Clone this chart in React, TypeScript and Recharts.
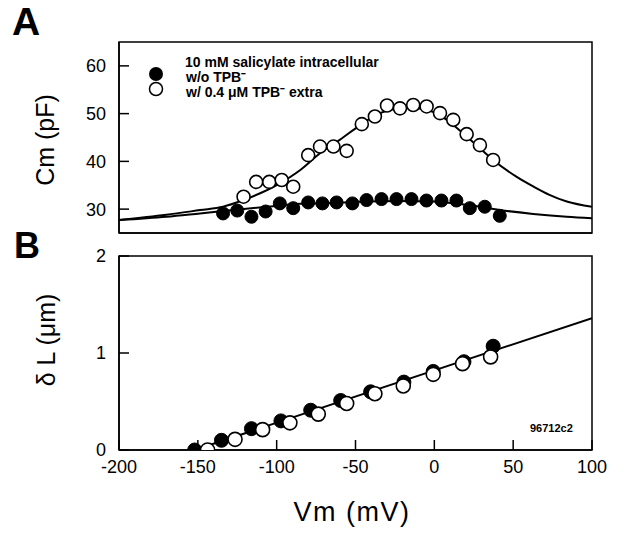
import React from 'react';
import { ComposedChart, Scatter, Line, XAxis, YAxis, ReferenceArea } from 'recharts';

// Panel A: membrane capacitance (pF) vs Vm (mV)
const vmFilledA = [-134, -125, -116, -107, -98, -89.5, -80, -71, -62, -52, -43, -33.5, -24, -14.5, -5, 4.5, 14, 22.5, 32, 41.5];
const cmFilledA = [29.1, 29.7, 28.4, 29.5, 31.2, 30.2, 31.4, 31.2, 31.4, 31.2, 31.9, 32.1, 32.1, 32.1, 31.8, 31.8, 31.8, 30.2, 30.5, 28.6];
const vmOpenA = [-121, -113, -104.7, -96.8, -89.5, -80, -72.5, -64, -55.6, -46, -37.7, -30, -21.8, -13.4, -4.9, 3.6, 12, 20.5, 28.9, 37.3];
const cmOpenA = [32.6, 35.7, 35.7, 36.1, 34.7, 41.3, 43.1, 43.1, 42.2, 47.8, 49.4, 51.7, 51.1, 51.8, 51.5, 50.1, 48.7, 45.7, 43.4, 40.3];

// fitted curves
const vmFitOpenA = [-200, -170, -148.6, -134, -121, -98, -85, -72.5, -60, -47, -34.5, -22, -13.4, -5, 3.6, 12, 20.5, 29, 37.3, 52, 63, 73, 84, 100];
const cmFitOpenA = [27.7, 28.8, 29.8, 30.5, 31.9, 35.4, 38.2, 41.7, 44.5, 47.6, 50.1, 51.1, 51.2, 50.8, 49.7, 47.6, 45.2, 42.7, 40.3, 36.8, 34.7, 33.0, 31.6, 30.5];
const vmFitFilledA = [-200, -170, -148.6, -127.5, -106, -85, -64, -43, -22, -1, 20.5, 41.6, 62.7, 84, 100];
const cmFitFilledA = [27.7, 28.4, 29.1, 29.8, 30.5, 31.1, 31.3, 31.6, 31.7, 31.6, 30.9, 29.8, 29.0, 28.4, 28.1];

// Panel B: delta L (um) vs Vm (mV)
const vmFilledB = [-152, -135, -116, -97.3, -78.4, -59.4, -40.4, -19.3, -0.7, 18.8, 37.3];
const dlFilledB = [0, 0.1, 0.22, 0.3, 0.41, 0.51, 0.6, 0.7, 0.81, 0.91, 1.07];
const vmOpenB = [-143.8, -126.4, -108.9, -91.6, -73.6, -55.6, -37.7, -19.7, -0.7, 17.9, 35.7];
const dlOpenB = [0, 0.11, 0.21, 0.28, 0.37, 0.48, 0.58, 0.66, 0.78, 0.89, 0.96];
const vmFitB = [-152, 100];
const dlFitB = [0, 1.36];

const xTicks = [-200, -150, -100, -50, 0, 50, 100];
const yTicksA = [30, 40, 50, 60];
const yTicksB = [0, 1, 2];

const zip = (xs: number[], ys: number[]) => xs.map((x, i) => ({ x, y: ys[i] }));

const FONT = '"Liberation Sans", Arial, Helvetica, sans-serif';

const filledDot = (r: number) => (p: any) => (
  <circle cx={p.cx} cy={p.cy} r={r} fill="#000" stroke="#000" strokeWidth={1} />
);
const openDot = (r: number) => (p: any) => (
  <circle cx={p.cx} cy={p.cy} r={r} fill="#fff" stroke="#000" strokeWidth={1.6} />
);

const tickStyle = { fontSize: 18, fill: '#000', fontFamily: FONT };

export default function App() {
  return (
    <div style={{ position: 'absolute', left: 0, top: 0, width: 625, height: 540, background: '#fff', fontFamily: FONT }}>
      <div style={{ position: 'absolute', left: 0, top: 0 }}>
        <ComposedChart width={625} height={245} margin={{ top: 42, right: 33, bottom: 2, left: 59 }}>
          <XAxis type="number" dataKey="x" domain={[-200, 100]} ticks={xTicks} allowDataOverflow
            height={10} tick={false} tickSize={-10} stroke="#000" strokeWidth={1.5} />
          <YAxis type="number" dataKey="y" domain={[25, 65]} ticks={yTicksA} allowDataOverflow
            width={60} tickSize={-10} tickMargin={23} tick={tickStyle} stroke="#000" strokeWidth={1.5} />
          <ReferenceArea x1={-200} x2={100} y1={25} y2={65} fill="none" stroke="#000" strokeWidth={1.5} fillOpacity={0} />
          <Line data={zip(vmFitOpenA, cmFitOpenA)} dataKey="y" type="monotone" stroke="#000" strokeWidth={2} dot={false} isAnimationActive={false} />
          <Line data={zip(vmFitFilledA, cmFitFilledA)} dataKey="y" type="monotone" stroke="#000" strokeWidth={2} dot={false} isAnimationActive={false} />
          <Scatter data={zip(vmFilledA, cmFilledA)} dataKey="y" shape={filledDot(6.5)} isAnimationActive={false} />
          <Scatter data={zip(vmOpenA, cmOpenA)} dataKey="y" shape={openDot(6.5)} isAnimationActive={false} />
        </ComposedChart>
      </div>
      <div style={{ position: 'absolute', left: 0, top: 245 }}>
        <ComposedChart width={625} height={295} margin={{ top: 11, right: 33, bottom: 10, left: 59 }}>
          <XAxis type="number" dataKey="x" domain={[-200, 100]} ticks={xTicks} allowDataOverflow
            height={80} tickSize={-10} tickMargin={20} tick={tickStyle} stroke="#000" strokeWidth={1.5} />
          <YAxis type="number" dataKey="y" domain={[0, 2]} ticks={yTicksB} allowDataOverflow
            width={60} tickSize={-10} tickMargin={23} tick={tickStyle} stroke="#000" strokeWidth={1.5} />
          <ReferenceArea x1={-200} x2={100} y1={0} y2={2} fill="none" stroke="#000" strokeWidth={1.5} fillOpacity={0} />
          <Line data={zip(vmFitB, dlFitB)} dataKey="y" type="linear" stroke="#000" strokeWidth={2} dot={false} isAnimationActive={false} />
          <Scatter data={zip(vmFilledB, dlFilledB)} dataKey="y" shape={filledDot(7)} isAnimationActive={false} />
          <Scatter data={zip(vmOpenB, dlOpenB)} dataKey="y" shape={openDot(7)} isAnimationActive={false} />
        </ComposedChart>
      </div>
      <svg width={625} height={540} style={{ position: 'absolute', left: 0, top: 0, pointerEvents: 'none' }} fontFamily={FONT}>
        <text x={12} y={35} fontSize={39} fontWeight="bold">A</text>
        <text x={14} y={258} fontSize={36} fontWeight="bold">B</text>
        <text x={45} y={140} fontSize={25} textAnchor="middle" dominantBaseline="central" transform="rotate(-90 45 140)">Cm (pF)</text>
        <text x={46} y={340} fontSize={25} textAnchor="middle" dominantBaseline="central" transform="rotate(-90 46 340)">δ L (μm)</text>
        <text x={352} y={521} fontSize={27} textAnchor="middle" letterSpacing={1.5}>Vm (mV)</text>
        {/* legend */}
        <circle cx={156} cy={74} r={7} fill="#000" />
        <circle cx={156} cy={89} r={6.5} fill="#fff" stroke="#000" strokeWidth={1.5} />
        <text x={185} y={67} fontSize={14} fontWeight="bold">10 mM salicylate intracellular</text>
        <text x={186} y={82} fontSize={14} fontWeight="bold">w/o TPB⁻</text>
        <text x={186} y={97} fontSize={14} fontWeight="bold">w/ 0.4 μM TPB⁻ extra</text>
        <text x={530} y={432} fontSize={11} fontWeight="bold">96712c2</text>
      </svg>
    </div>
  );
}
